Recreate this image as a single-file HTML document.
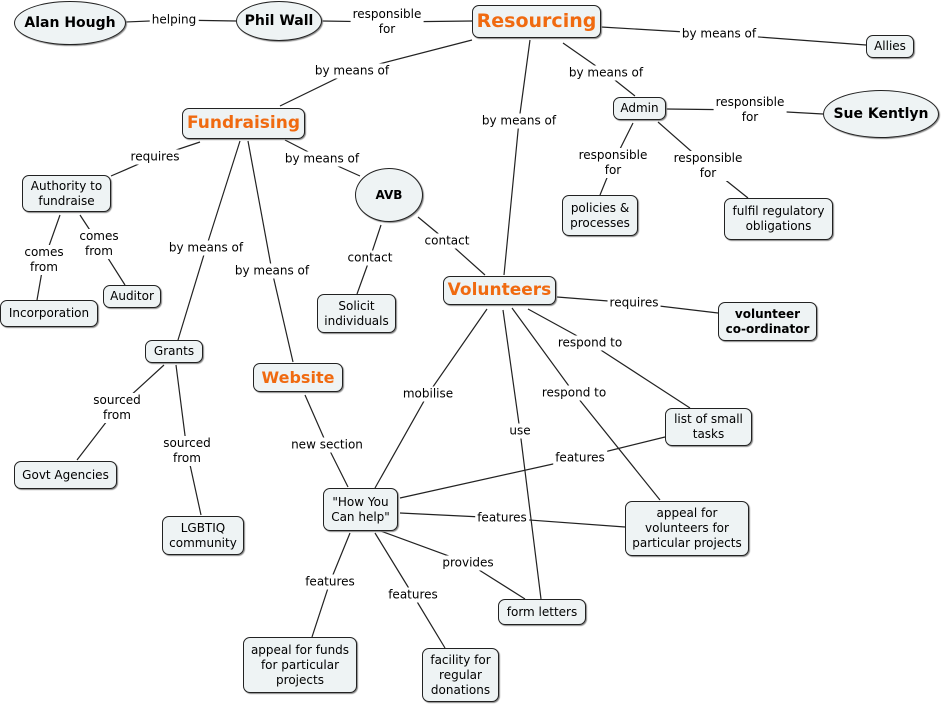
<!DOCTYPE html>
<html><head><meta charset="utf-8"><style>
body{margin:0;width:941px;height:706px;background:#fff;position:relative;overflow:hidden;font-family:"DejaVu Sans","Liberation Sans",sans-serif;font-size:12px;color:#000}
.n{position:absolute;box-sizing:border-box;border:1px solid #222;border-radius:7px;background:#eef3f4;display:flex;align-items:center;justify-content:center;text-align:center;line-height:15px;box-shadow:1px 1px 1px #888}
.e{border-radius:50%}
.b{font-weight:bold;font-size:14px}
.o{color:#f06a10;font-weight:bold;font-size:16px}
.l{position:absolute;transform:translate(-50%,-50%);background:#fff;text-align:center;line-height:15px;white-space:nowrap;padding:0 2px}
svg{position:absolute;left:0;top:0}
</style></head><body>
<svg width="941" height="706"><g stroke="#222" stroke-width="1.2" fill="none">
<polyline points="126,22 174,20 236,21"/>
<polyline points="322,21 387,22 472,21"/>
<polyline points="601,27 719,34 866,45"/>
<polyline points="472,40 352,71 280,106"/>
<polyline points="530,40 519,121 504,275"/>
<polyline points="563,43 606,73 635,96"/>
<polyline points="666,109 750,110 823,114"/>
<polyline points="633,123 613,163 600,195"/>
<polyline points="658,122 708,166 748,198"/>
<polyline points="200,142 155,157 111,176"/>
<polyline points="285,140 322,159 360,176"/>
<polyline points="240,141 206,248 178,340"/>
<polyline points="248,141 272,271 293,362"/>
<polyline points="60,215 44,260 37,300"/>
<polyline points="80,215 99,244 125,285"/>
<polyline points="381,225 370,258 357,294"/>
<polyline points="418,217 447,241 485,275"/>
<polyline points="557,297 634,303 718,313"/>
<polyline points="528,309 590,343 690,408"/>
<polyline points="512,308 574,393 660,500"/>
<polyline points="503,310 520,431 541,599"/>
<polyline points="487,309 428,394 375,488"/>
<polyline points="305,395 327,445 348,487"/>
<polyline points="164,365 117,408 77,460"/>
<polyline points="176,365 187,451 201,515"/>
<polyline points="665,437 580,458 400,498"/>
<polyline points="400,513 502,518 625,527"/>
<polyline points="378,530 468,563 525,599"/>
<polyline points="350,533 330,582 312,637"/>
<polyline points="375,533 413,595 445,648"/>
</g></svg>
<div class="l" style="left:174px;top:20px">helping</div>
<div class="l" style="left:387px;top:22px">responsible<br>for</div>
<div class="l" style="left:719px;top:34px">by means of</div>
<div class="l" style="left:352px;top:71px">by means of</div>
<div class="l" style="left:519px;top:121px">by means of</div>
<div class="l" style="left:606px;top:73px">by means of</div>
<div class="l" style="left:750px;top:110px">responsible<br>for</div>
<div class="l" style="left:613px;top:163px">responsible<br>for</div>
<div class="l" style="left:708px;top:166px">responsible<br>for</div>
<div class="l" style="left:155px;top:157px">requires</div>
<div class="l" style="left:322px;top:159px">by means of</div>
<div class="l" style="left:206px;top:248px">by means of</div>
<div class="l" style="left:272px;top:271px">by means of</div>
<div class="l" style="left:44px;top:260px">comes<br>from</div>
<div class="l" style="left:99px;top:244px">comes<br>from</div>
<div class="l" style="left:370px;top:258px">contact</div>
<div class="l" style="left:447px;top:241px">contact</div>
<div class="l" style="left:634px;top:303px">requires</div>
<div class="l" style="left:590px;top:343px">respond to</div>
<div class="l" style="left:574px;top:393px">respond to</div>
<div class="l" style="left:520px;top:431px">use</div>
<div class="l" style="left:428px;top:394px">mobilise</div>
<div class="l" style="left:327px;top:445px">new section</div>
<div class="l" style="left:117px;top:408px">sourced<br>from</div>
<div class="l" style="left:187px;top:451px">sourced<br>from</div>
<div class="l" style="left:580px;top:458px">features</div>
<div class="l" style="left:502px;top:518px">features</div>
<div class="l" style="left:468px;top:563px">provides</div>
<div class="l" style="left:330px;top:582px">features</div>
<div class="l" style="left:413px;top:595px">features</div>

<div class="n e b" style="left:14px;top:1px;width:112px;height:44px">Alan Hough</div>
<div class="n e b" style="left:236px;top:1px;width:86px;height:40px">Phil Wall</div>
<div class="n o" style="left:472px;top:5px;width:129px;height:33px;font-size:19px">Resourcing</div>
<div class="n" style="left:866px;top:35px;width:48px;height:23px">Allies</div>
<div class="n" style="left:613px;top:97px;width:53px;height:23px">Admin</div>
<div class="n e b" style="left:823px;top:90px;width:116px;height:48px">Sue Kentlyn</div>
<div class="n o" style="left:182px;top:108px;width:123px;height:31px;font-size:17px">Fundraising</div>
<div class="n" style="left:22px;top:175px;width:89px;height:37px">Authority to<br>fundraise</div>
<div class="n e" style="left:355px;top:168px;width:68px;height:54px;font-weight:bold">AVB</div>
<div class="n" style="left:562px;top:195px;width:76px;height:41px">policies &amp;<br>processes</div>
<div class="n" style="left:724px;top:198px;width:109px;height:42px">fulfil regulatory<br>obligations</div>
<div class="n o" style="left:443px;top:276px;width:113px;height:29px;font-size:17px">Volunteers</div>
<div class="n" style="left:718px;top:302px;width:99px;height:39px;font-weight:bold">volunteer<br>co-ordinator</div>
<div class="n" style="left:317px;top:294px;width:79px;height:39px">Solicit<br>individuals</div>
<div class="n" style="left:103px;top:285px;width:58px;height:23px">Auditor</div>
<div class="n" style="left:0px;top:300px;width:98px;height:27px">Incorporation</div>
<div class="n" style="left:145px;top:340px;width:58px;height:23px">Grants</div>
<div class="n o" style="left:253px;top:363px;width:90px;height:29px">Website</div>
<div class="n" style="left:665px;top:408px;width:87px;height:38px">list of small<br>tasks</div>
<div class="n" style="left:14px;top:461px;width:103px;height:28px">Govt Agencies</div>
<div class="n" style="left:323px;top:488px;width:75px;height:43px">"How You<br>Can help"</div>
<div class="n" style="left:625px;top:501px;width:124px;height:55px">appeal for<br>volunteers for<br>particular projects</div>
<div class="n" style="left:162px;top:516px;width:82px;height:39px">LGBTIQ<br>community</div>
<div class="n" style="left:498px;top:599px;width:88px;height:26px">form letters</div>
<div class="n" style="left:243px;top:637px;width:114px;height:56px">appeal for funds<br>for particular<br>projects</div>
<div class="n" style="left:422px;top:648px;width:77px;height:54px">facility for<br>regular<br>donations</div>
</body></html>
